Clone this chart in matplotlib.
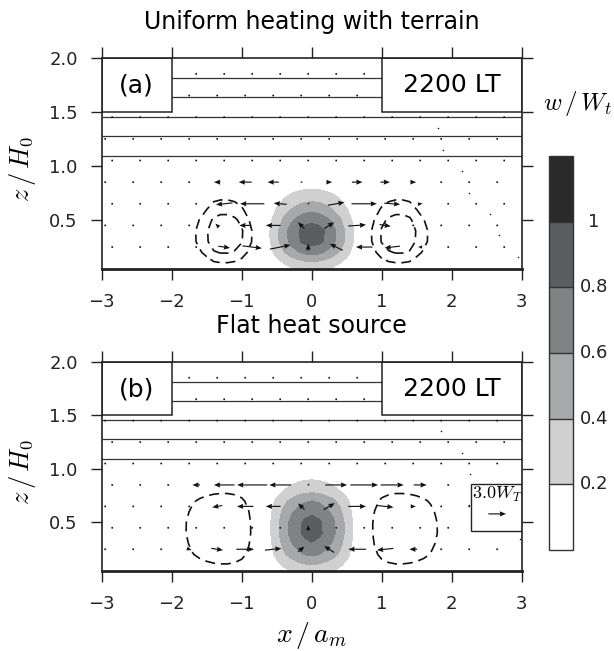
import numpy as np
import matplotlib
matplotlib.use('Agg')
import matplotlib.pyplot as plt
from matplotlib.patches import Rectangle

plt.rcParams['font.family'] = 'DejaVu Sans'
plt.rcParams['mathtext.fontset'] = 'cm'

# --- w/W_t field: horizontal profile (x >= 0, mirrored) times vertical profile
x_nodes = [0.0, 0.1, 0.2, 0.3, 0.4, 0.5, 0.6, 0.7, 0.8, 0.9, 1.0,
           1.1, 1.2, 1.3, 1.4, 1.5, 1.6, 1.7, 1.8, 1.9, 2.0, 3.0]
fa = [0.92, 0.89, 0.80, 0.68, 0.53, 0.36, 0.20, 0.07, -0.03, -0.05, -0.075,
      -0.092, -0.10, -0.10, -0.092, -0.068, -0.05, -0.034, -0.015, -0.005, 0.0, 0.0]
fb = [0.90, 0.86, 0.77, 0.66, 0.52, 0.35, 0.18, 0.06, -0.02, -0.042, -0.06,
      -0.07, -0.075, -0.075, -0.072, -0.066, -0.058, -0.048, -0.035, -0.02, -0.006, 0.0]
z_nodes = [0.0, 0.1, 0.2, 0.3, 0.4, 0.5, 0.6, 0.7, 0.8, 0.9, 1.0, 1.1, 1.2, 2.0]
ga = [0.15, 0.38, 0.72, 0.96, 0.98, 0.82, 0.58, 0.37, 0.19, 0.08, 0.02, 0.0, 0.0, 0.0]
gb = [0.18, 0.43, 0.70, 0.87, 0.98, 0.97, 0.85, 0.67, 0.38, 0.22, 0.10, 0.03, 0.0, 0.0]

w_levels = [0.0, 0.2, 0.4, 0.6, 0.8, 1.0, 1.2]
shade_colors = ['#ffffff', '#d0d0d0', '#a7a8a9', '#818284', '#5c5d60', '#2a2a2a']
dash_levels_a = [-0.07, -0.04]
dash_levels_b = [-0.035]
cbar_ticks = [0.2, 0.4, 0.6, 0.8, 1.0]
cbar_labels = ['0.2', '0.4', '0.6', '0.8', '1']

# --- wind vectors (units of W_T), rows z = 0.25 .. 0.85, 9 columns around x = 0
rows_z = [0.25, 0.45, 0.65, 0.85, 1.05, 1.25, 1.45, 1.65, 1.85]
ua = [[0.0, 2.0, 3.3, 3.5, 0.0, -2.2, -2.8, -2.6, -0.7],
      [0.0, -0.6, -2.0, -2.5, -1.1, 1.7, 3.0, 1.9, 0.3],
      [0.0, -2.8, -4.1, -2.2, -0.3, 2.8, 4.3, 2.7, 0.8],
      [0.0, -1.1, -2.2, -1.9, -0.4, 1.0, 1.8, 1.6, 1.0]]
wa = [[0.0, -0.3, -0.4, 0.7, 1.2, 1.1, 0.0, -0.3, 0.0],
      [0.0, 0.6, 0.0, 0.0, 1.1, 1.1, 0.2, -0.3, 0.0],
      [0.0, -0.3, 0.0, 0.2, -0.3, 0.5, 0.0, -0.2, 0.2],
      [0.0, 0.0, 0.0, 0.0, 0.0, 0.0, 0.0, 0.0, 0.0]]
ub = [[0.8, 2.0, 3.0, 2.8, 1.1, -1.7, -3.0, -2.8, -1.3],
      [0.0, 0.0, 0.0, 0.0, 0.0, 0.0, 0.0, 0.0, 0.0],
      [0.0, -1.7, -2.8, -2.5, -1.1, 1.9, 3.0, 2.8, 0.9],
      [-1.3, -3.5, -5.1, -3.7, -0.3, 3.7, 4.7, 3.9, 2.2]]
wb = [[-0.3, -0.3, 0.0, 0.3, 0.9, 1.1, 0.0, -0.3, 0.0],
      [0.0, 0.0, 0.0, 0.0, 0.9, 0.0, 0.0, 0.0, 0.0],
      [0.0, -0.3, 0.0, 0.0, 1.0, 1.1, 0.0, -0.3, 0.0],
      [0.0, 0.0, 0.0, 0.0, -0.3, 0.0, 0.0, 0.0, 0.0]]
row_start_a = [-2.85, -2.95]
row_start_b = [-2.95, -2.85]
stray_a = ([1.80, 1.87, 2.15, 2.24, 2.55, 2.67, 2.95], [1.35, 1.15, 0.95, 0.75, 0.56, 0.36, 0.16])
stray_b = ([1.85, 2.15, 2.26, 2.24, 2.97], [1.35, 1.15, 0.95, 0.66, 0.35])

strip_full = [1.09, 1.275, 1.455]
strip_mid = [1.635, 1.815]
key_value = 3.0


def field(f, g):
    f = np.array(f)
    xs = np.concatenate([-np.array(x_nodes[:0:-1]), x_nodes])
    ff = np.concatenate([f[:0:-1], f])
    return xs, np.outer(g, ff)


def vectors(ax, starts, ublk, wblk):
    X, Z, U, V = [], [], [], []
    for i, z in enumerate(rows_z):
        xs = starts[i % 2] + 0.4 * np.arange(15)
        u = np.zeros(15)
        v = np.zeros(15)
        if i < len(ublk):
            u[3:12] = ublk[i]
            v[3:12] = wblk[i]
        X.extend(xs); Z.extend([z] * 15); U.extend(u); V.extend(v)
    return ax.quiver(X, Z, U, V, pivot='middle', units='dots', width=1.15,
                     headwidth=4.5, headlength=5.5, headaxislength=5,
                     minlength=1.8, scale=16.95, scale_units='inches',
                     color='#111111', zorder=3)


fig = plt.figure(figsize=(6.14, 6.51), dpi=100)
ax_a = fig.add_axes([0.16564, 0.58725, 0.68404, 0.32412])
ax_b = fig.add_axes([0.16564, 0.12335, 0.68404, 0.32104])
cax = fig.add_axes([0.8946, 0.15515, 0.03909, 0.60522])

panels = [(ax_a, fa, ga, dash_levels_a, row_start_a, ua, wa, stray_a, '(a)',
           'Uniform heating with terrain'),
          (ax_b, fb, gb, dash_levels_b, row_start_b, ub, wb, stray_b, '(b)',
           'Flat heat source')]

for ax, f, g, dl, starts, ublk, wblk, stray, tag, title in panels:
    xs, W = field(f, g)
    cf = ax.contourf(xs, z_nodes, W, levels=w_levels, colors=shade_colors, zorder=1)
    ax.contour(xs, z_nodes, W, levels=dl, colors='#111111', linewidths=1.2,
               linestyles=[(0, (6, 3.5))], zorder=2)
    q = vectors(ax, starts, ublk, wblk)
    ax.plot(stray[0], stray[1], 'o', ms=1.1, mew=0, color='#111111', zorder=3)
    ax.hlines(strip_full, -3, 3, colors='#333333', linewidth=0.9, zorder=2.5)
    ax.hlines(strip_mid, -2, 1, colors='#333333', linewidth=0.9, zorder=2.5)
    ax.add_patch(Rectangle((-3, 1.5), 1, 0.5, facecolor='white',
                           edgecolor='#222222', lw=1.1, zorder=4))
    ax.add_patch(Rectangle((1, 1.5), 2, 0.5, facecolor='white',
                           edgecolor='#222222', lw=1.1, zorder=4))
    ax.text(-2.5, 1.745, tag, ha='center', va='center', fontsize=18, zorder=5)
    ax.text(2.0, 1.745, '2200 LT', ha='center', va='center', fontsize=18, zorder=5)
    ax.annotate(title, xy=(0.5, 1), xycoords='axes fraction', xytext=(0, 20.4),
                textcoords='offset points', ha='center', va='baseline', fontsize=17)

    ax.set_xlim(-3, 3)
    ax.set_ylim(0.05, 2.0)
    ax.set_xticks(range(-3, 4))
    ax.set_yticks([0.5, 1.0, 1.5, 2.0])
    ax.set_yticklabels(['0.5', '1.0', '1.5', '2.0'])
    ax.tick_params(direction='out', length=7.7, width=1.0, top=True, right=True,
                   labelsize=13, color='#222222', labelcolor='#222222')
    ax.tick_params(axis='x', pad=10)
    ax.tick_params(axis='y', pad=9.5)
    for s in ax.spines.values():
        s.set_linewidth(1.2)
        s.set_color('#222222')
        s.set_zorder(6)
    ax.spines['bottom'].set_linewidth(2.0)
    ax.set_ylabel(r'$z\,/\,H_0$', fontsize=19)
    ax.yaxis.set_label_coords(-0.152, 0.47)

# reference vector box
ax_b.add_patch(Rectangle((2.28, 0.42), 0.72, 0.435, facecolor='white',
                         edgecolor='#222222', lw=1.0, zorder=4))
qk = ax_b.quiverkey(q, 2.65, 0.58, key_value, r'$3.0W_T$', coordinates='data',
                    labelpos='N', labelsep=0.1, fontproperties={'size': 13})
qk.set_zorder(5)

ax_b.set_xlabel(r'$x\,/\,a_m$', fontsize=20)
ax_b.xaxis.label.set_va('center')
ax_b.xaxis.set_label_coords(0.5, -0.31)

cbar = fig.colorbar(cf, cax=cax, drawedges=True)
cbar.set_ticks([])
cbar.minorticks_off()
cbar.outline.set_linewidth(1.0)
cbar.outline.set_edgecolor('#333333')
cbar.dividers.set_color('#333333')
cbar.dividers.set_linewidth(1.0)
for v, lab in zip(cbar_ticks, cbar_labels):
    cax.text(1.86, v, lab, transform=cax.get_yaxis_transform(), ha='center',
             va='center', fontsize=13, color='#222222')
fig.text(578 / 614, 1 - 103 / 651, r'$w\,/\,W_t$', ha='center', va='center',
         fontsize=18)

fig.savefig('out.png', dpi=100)
